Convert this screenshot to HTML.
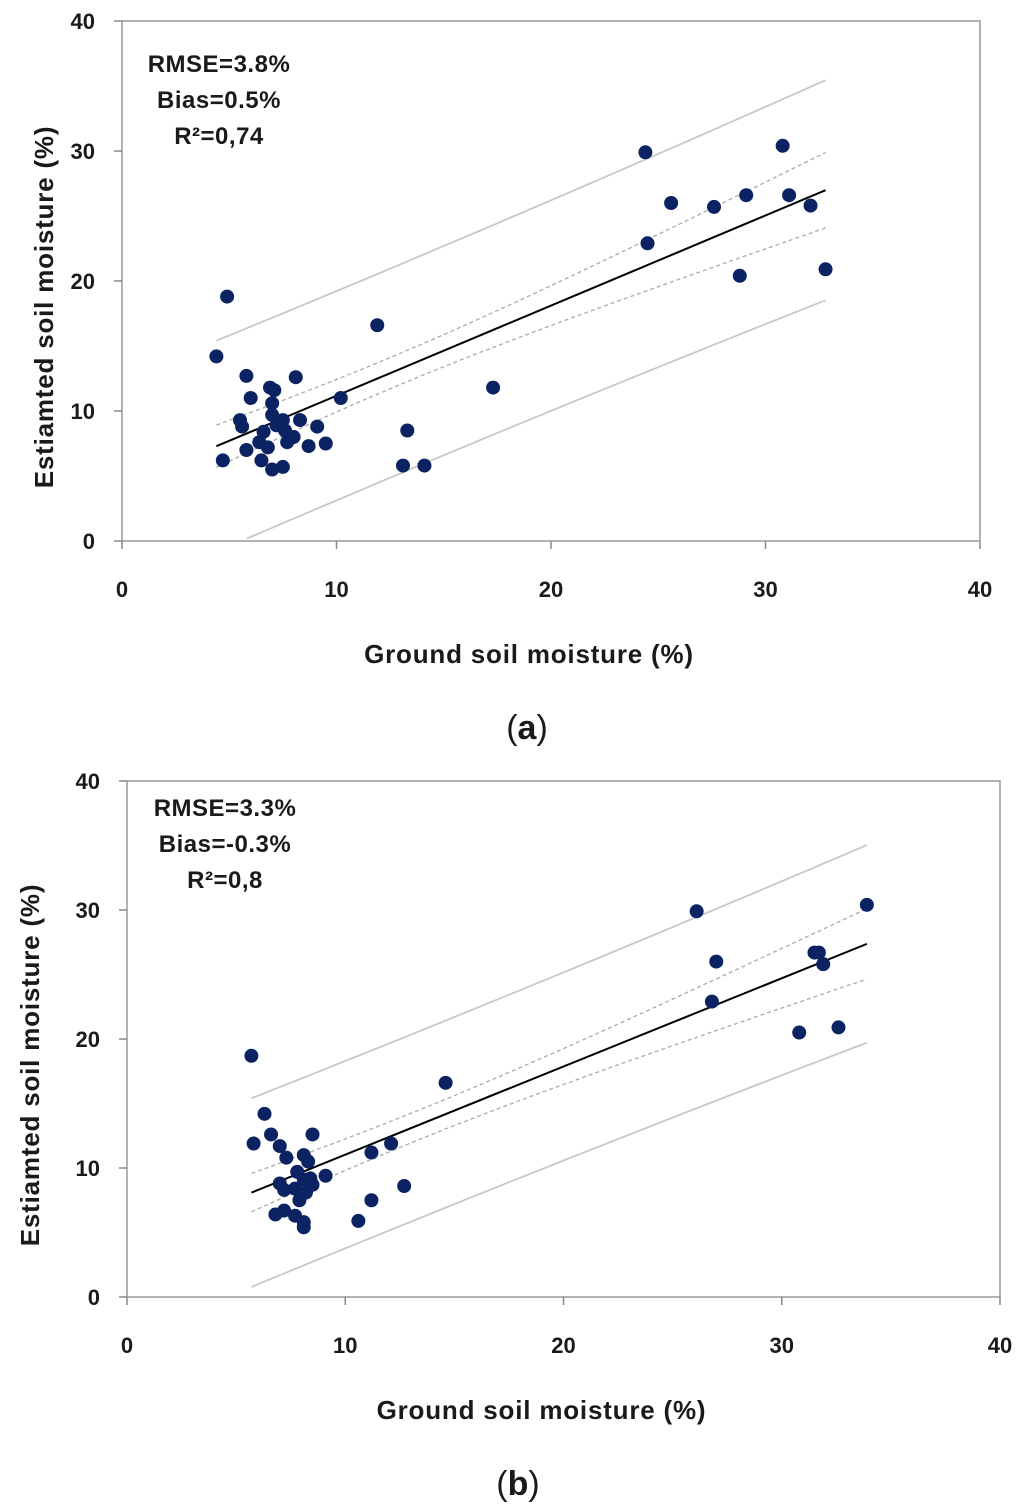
<!DOCTYPE html>
<html><head><meta charset="utf-8"><style>
body{margin:0;background:#fff;width:1024px;height:1508px;overflow:hidden}
svg{position:absolute;left:0;top:0}
text{font-family:"Liberation Sans",sans-serif;font-weight:bold;fill:#1a1a1a}
</style></head><body>
<svg id="chart" width="1024" height="1508" viewBox="0 0 1024 1508"></svg>
<script>
const ticksX=[0,10,20,30,40];
const ticksY=[0,10,20,30,40];
const aX=[4.4,4.9,4.7,5.8,6.0,5.5,5.6,5.8,6.4,6.6,6.8,6.5,7.0,6.9,7.1,7.0,7.0,7.2,7.5,7.6,7.5,7.7,8.0,8.1,8.3,8.7,9.1,9.5,10.2,11.9,13.1,13.3,14.1,17.3,24.4,24.5,25.6,27.6,28.8,29.1,30.8,31.1,32.1,32.8];
const aY=[14.2,18.8,6.2,12.7,11.0,9.3,8.8,7.0,7.6,8.4,7.2,6.2,5.5,11.8,11.6,10.6,9.7,8.9,9.3,8.5,5.7,7.6,8.0,12.6,9.3,7.3,8.8,7.5,11.0,16.6,5.8,8.5,5.8,11.8,29.9,22.9,26.0,25.7,20.4,26.6,30.4,26.6,25.8,20.9];
const bX=[5.7,5.8,6.3,6.6,7.0,7.3,7.0,7.2,6.8,7.2,7.7,8.1,8.1,7.9,7.7,8.1,7.8,8.1,8.3,8.5,8.5,8.2,9.1,8.4,10.6,11.2,11.2,12.1,12.7,14.6,26.1,26.8,27.0,30.8,31.5,31.7,31.9,32.6,33.9];
const bY=[18.7,11.9,14.2,12.6,11.7,10.8,8.8,8.3,6.4,6.7,6.3,5.8,5.4,7.5,8.4,9.1,9.7,11.0,10.5,12.6,8.7,8.1,9.4,9.2,5.9,11.2,7.5,11.9,8.6,16.6,29.9,22.9,26.0,20.5,26.7,26.7,25.8,20.9,30.4];
const aStats=["RMSE=3.8%","Bias=0.5%","R²=0,74"];
const bStats=["RMSE=3.3%","Bias=-0.3%","R²=0,8"];
const NS="http://www.w3.org/2000/svg";
const svg=document.getElementById('chart');
function mk(tag,attrs,parent,txt){const e=document.createElementNS(NS,tag);for(const k in attrs)e.setAttribute(k,attrs[k]);if(txt!==undefined)e.textContent=txt;(parent||svg).appendChild(e);return e;}
function fit(X,Y){const n=X.length;let mx=0,my=0;for(let i=0;i<n;i++){mx+=X[i];my+=Y[i];}mx/=n;my/=n;let sxy=0,sxx=0,sse=0;for(let i=0;i<n;i++){sxy+=(X[i]-mx)*(Y[i]-my);sxx+=(X[i]-mx)**2;}const b=sxy/sxx,a=my-b*mx;for(let i=0;i<n;i++)sse+=(Y[i]-a-b*X[i])**2;const s=Math.sqrt(sse/(n-2));return{a,b,mx,sxx,s,n};}
function panel(P,X,Y,stats,label,suffix){
  const g=mk('g',{},svg);
  const sx=v=>P.x0+(v/40)*(P.x1-P.x0), sy=v=>P.y0-(v/40)*(P.y0-P.y1);
  const fr=mk('rect',{x:P.x0,y:P.y1,width:P.x1-P.x0,height:P.y0-P.y1,fill:'none',stroke:'#999','stroke-width':1.5},g);
  
  ticksX.forEach(t=>{mk('line',{x1:sx(t),x2:sx(t),y1:P.y0,y2:P.y0+8,stroke:'#888','stroke-width':1.5},g);
    const tx=mk('text',{x:sx(t),y:P.y0+56,'text-anchor':'middle','font-size':22},g,t);});
  ticksY.forEach(t=>{mk('line',{x1:P.x0-8,x2:P.x0,y1:sy(t),y2:sy(t),stroke:'#888','stroke-width':1.5},g);
    const ty=mk('text',{x:P.x0-27,y:sy(t)+8,'text-anchor':'end','font-size':22},g,t);});
  const f=fit(X,Y);const xmin=Math.min(...X),xmax=Math.max(...X);
  const pathF=(fn)=>{let d='';let first=true;for(let i=0;i<=60;i++){const x=xmin+(xmax-xmin)*i/60;let y=fn(x);if(y<0)continue;d+=(first?'M':'L')+sx(x).toFixed(1)+','+sy(y).toFixed(1);first=false;}return d;};
  const pi=x=>2.0*f.s*Math.sqrt(1+1/f.n+(x-f.mx)**2/f.sxx);
  const ci=x=>2.0*f.s*Math.sqrt(1/f.n+(x-f.mx)**2/f.sxx);
  [[x=>f.a+f.b*x+pi(x),'#c8c8c8',0,'prediction-upper'],[x=>f.a+f.b*x-pi(x),'#c8c8c8',0,'prediction-lower'],
   [x=>f.a+f.b*x+ci(x),'#aaa',1,'confidence-upper'],[x=>f.a+f.b*x-ci(x),'#aaa',1,'confidence-lower']].forEach(([fn,c,dash,nm])=>{
    const p=mk('path',{d:pathF(fn),fill:'none',stroke:c,'stroke-width':dash?1.3:1.8,'stroke-dasharray':dash?'4 3':'none'},g);
    });
  const rl=mk('line',{x1:sx(xmin),y1:sy(f.a+f.b*xmin),x2:sx(xmax),y2:sy(f.a+f.b*xmax),stroke:'#000','stroke-width':2},g);
  
  X.forEach((x,i)=>{const c=mk('circle',{cx:sx(x),cy:sy(Y[i]),r:7,fill:'#0b2263'},g);
    });
  stats.forEach((s,i)=>{const t=mk('text',{x:P.sx,y:P.sy+i*36,'text-anchor':'middle','font-size':24,'letter-spacing':0.5},g,s);
    });
  const xt=mk('text',{x:(P.x0+P.x1)/2-22,y:P.y0+122,'text-anchor':'middle','font-size':26,'letter-spacing':0.8},g,'Ground soil moisture (%)');
  
  const cy=(P.y0+P.y1)/2+26;
  const yt=mk('text',{x:P.ytx,y:cy,'text-anchor':'middle','font-size':26,'letter-spacing':0.8,transform:`rotate(-90 ${P.ytx} ${cy})`},g,'Estiamted soil moisture (%)');
  
  const lb=mk('text',{x:P.lx,y:P.y0+198,'text-anchor':'middle','font-size':34,'font-weight':'normal'},g,'');
  
  mk('tspan',{'font-weight':'normal'},lb,'(');mk('tspan',{'font-weight':'bold'},lb,label);mk('tspan',{'font-weight':'normal'},lb,')');
}
panel({x0:122,x1:980,y0:541,y1:21,sx:219,sy:72,ytx:53,lx:527},aX,aY,aStats,'a','a');
panel({x0:127,x1:1000,y0:1297,y1:781,sx:225,sy:816,ytx:39,lx:518},bX,bY,bStats,'b','b');
</script>
</body></html>
